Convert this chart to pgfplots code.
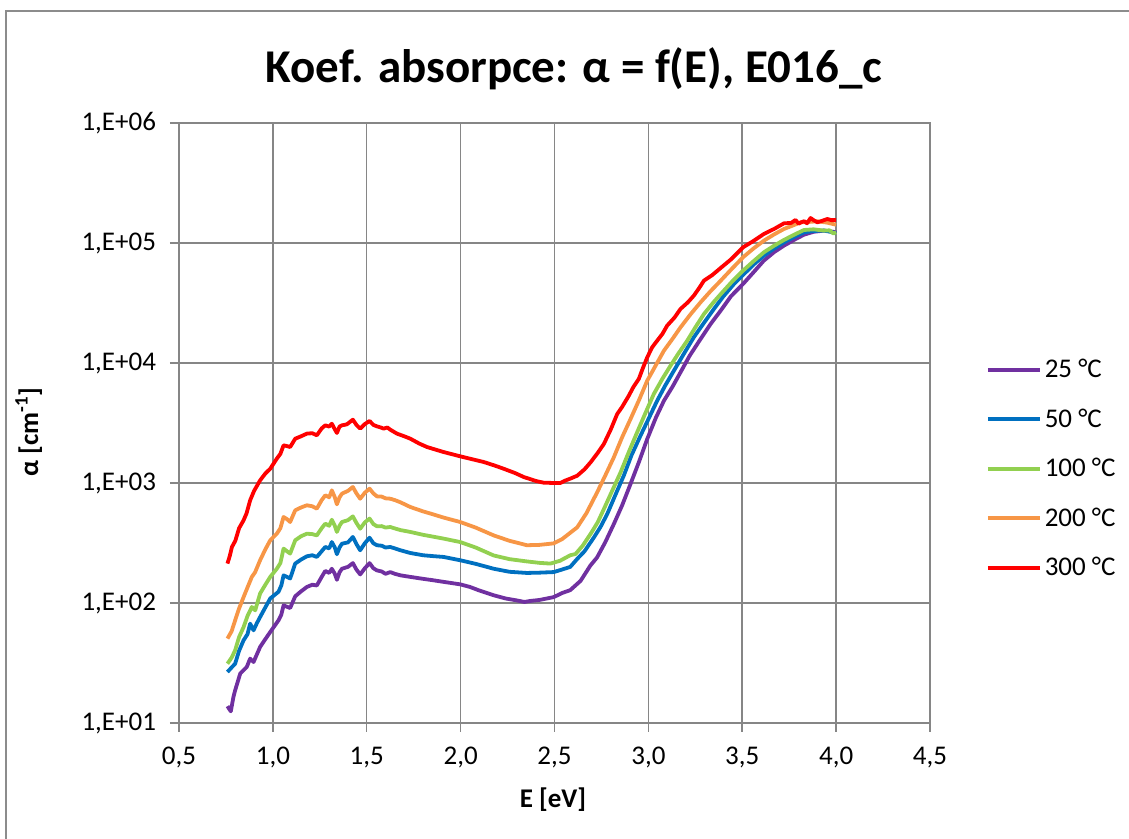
\documentclass[border=0pt]{standalone}
\usepackage{pgfplots}
\pgfplotsset{compat=1.18}
\usepackage{fontspec}
\setmainfont{Carlito}
\definecolor{c25}{RGB}{112,48,160}
\definecolor{c50}{RGB}{0,112,192}
\definecolor{c100}{RGB}{146,208,80}
\definecolor{c200}{RGB}{247,150,70}
\definecolor{c300}{RGB}{255,0,0}
\definecolor{gridc}{RGB}{134,134,134}
\definecolor{framec}{RGB}{140,140,140}
\begin{document}
\begin{tikzpicture}
\path[use as bounding box] (0,0) rectangle (564.5pt,419.5pt);
\draw[framec, line width=1pt] (3pt,-5pt) -- (3pt,414pt) -- (570pt,414pt);
\node[font=\fontsize{23.5}{28}\selectfont\bfseries] at (287pt,385pt) {Koef. absorpce: α = f(E), E016\_c};
\begin{axis}[
  at={(89.5pt,58pt)}, anchor=south west,
  scale only axis, width=375.5pt, height=300pt,
  xmin=0.5, xmax=4.5, ymin=10, ymax=1000000,
  ymode=log, log basis y=10,
  xtick={0.5,1,1.5,2,2.5,3,3.5,4,4.5},
  xticklabels={{0,5},{1,0},{1,5},{2,0},{2,5},{3,0},{3,5},{4,0},{4,5}},
  ytick={10,100,1000,10000,100000,1000000},
  yticklabels={{1,E+01},{1,E+02},{1,E+03},{1,E+04},{1,E+05},{1,E+06}},
  yminorticks=false,
  xtick pos=bottom, ytick pos=left,
  tick align=outside, major tick length=4.5pt,
  tick style={gridc, line width=0.75pt},
  axis line style={gridc, line width=0.75pt},
  grid=major, major grid style={gridc, line width=0.75pt},
  tick label style={font=\fontsize{13.5}{15}\selectfont},
  yticklabel style={xshift=-3.5pt},
  xticklabel style={yshift=-4pt},
  xlabel={\textbf{E [eV]}},
  ylabel={\textbf{α [cm\textsuperscript{-1}]}},
  label style={font=\fontsize{13.5}{15}\selectfont},
  xlabel style={at={(axis description cs:0.498,-0.128)}, anchor=center},
  ylabel style={at={(axis description cs:-0.2,0.485)}, anchor=center, rotate=0},
  legend style={at={(axis description cs:1.074,0.612)}, anchor=north west, draw=none, fill=none,
    font=\fontsize{13.5}{15}\selectfont, row sep=11pt, inner sep=0pt,
    nodes={inner sep=1.5pt}},
  legend cell align=left,
  legend image code/.code={\draw[#1, line width=1.9pt] (0pt,0pt) -- (26pt,0pt);},
  every axis plot/.append style={line width=1.9pt, line join=round},
]
\addplot[c25] coordinates {
(0.758,13.8)(0.776,12.5)(0.790,16.5)(0.799,18.7)(0.826,25.8)(0.861,29.3)(0.879,34.4)(0.897,32.2)(0.932,43)(0.960,50)(0.986,57.3)(1.030,71.7)(1.045,80)(1.057,95.7)(1.075,93)(1.092,90.8)(1.119,113.7)(1.150,125)(1.181,136)(1.210,142)(1.234,140)(1.260,165)(1.279,185)(1.300,178)(1.314,193)(1.330,175)(1.341,156)(1.355,180)(1.368,193)(1.400,200)(1.426,215)(1.445,190)(1.465,173)(1.490,195)(1.515,215)(1.535,195)(1.554,187)(1.580,183)(1.600,175)(1.625,181)(1.650,175)(1.680,170)(1.732,165)(1.800,159)(1.850,155)(1.909,150)(1.998,143)(2.050,136)(2.100,127)(2.176,116)(2.240,109)(2.300,105)(2.340,102)(2.371,104)(2.420,106)(2.496,112)(2.540,121)(2.584,128)(2.639,153)(2.691,205)(2.727,240)(2.770,320)(2.816,455)(2.860,650)(2.905,982)(2.950,1500)(2.994,2328)(3.040,3500)(3.083,4850)(3.130,6400)(3.171,8357)(3.220,11500)(3.278,15850)(3.330,21000)(3.385,27300)(3.440,36000)(3.504,45500)(3.560,57000)(3.615,71300)(3.670,84000)(3.722,95000)(3.780,107000)(3.829,117300)(3.880,124000)(3.935,126800)(3.970,125000)(4.000,122700)
};
\addlegendentry{25 °C}
\addplot[c50] coordinates {
(0.758,26.6)(0.780,29)(0.799,31.2)(0.820,40)(0.844,48.9)(0.865,55)(0.879,67.3)(0.897,59.2)(0.915,68)(0.932,76.4)(0.960,92)(0.986,109)(1.010,117)(1.030,124)(1.045,140)(1.057,170)(1.075,165)(1.092,160)(1.119,213)(1.150,230)(1.181,245)(1.210,250)(1.234,242)(1.260,270)(1.279,293)(1.300,285)(1.314,322)(1.330,290)(1.341,255)(1.355,290)(1.368,312)(1.400,320)(1.426,355)(1.445,310)(1.465,275)(1.490,315)(1.515,350)(1.535,315)(1.554,303)(1.580,300)(1.600,290)(1.625,293)(1.650,285)(1.680,275)(1.732,261)(1.800,250)(1.850,246)(1.909,242)(1.998,227)(2.080,212)(2.176,193)(2.260,182)(2.353,178)(2.420,179)(2.496,181)(2.540,190)(2.584,200)(2.621,233)(2.660,270)(2.710,352)(2.745,430)(2.781,552)(2.825,800)(2.869,1152)(2.910,1700)(2.958,2479)(3.000,3400)(3.047,4857)(3.090,6500)(3.136,8630)(3.190,12000)(3.242,16370)(3.295,21500)(3.349,28180)(3.400,36000)(3.456,45550)(3.504,54100)(3.560,66000)(3.615,78400)(3.670,90000)(3.722,101300)(3.780,113000)(3.829,122700)(3.880,126000)(3.935,126800)(3.970,124000)(4.000,120500)
};
\addlegendentry{50 °C}
\addplot[c100] coordinates {
(0.758,31.2)(0.780,35)(0.799,40.3)(0.820,52)(0.844,63)(0.865,78)(0.888,92.6)(0.906,86.9)(0.932,120)(0.960,142)(0.986,165)(1.021,193)(1.040,215)(1.057,284)(1.075,270)(1.092,258)(1.119,333)(1.150,360)(1.181,378)(1.210,375)(1.234,366)(1.260,420)(1.279,458)(1.300,440)(1.314,494)(1.330,440)(1.341,391)(1.355,440)(1.368,473)(1.400,490)(1.426,527)(1.445,465)(1.465,416)(1.490,470)(1.515,505)(1.535,455)(1.554,436)(1.580,437)(1.600,425)(1.625,430)(1.650,418)(1.680,405)(1.732,391)(1.800,370)(1.850,358)(1.909,344)(1.998,322)(2.080,290)(2.176,249)(2.260,232)(2.353,222)(2.420,216)(2.478,213)(2.530,225)(2.584,250)(2.612,256)(2.650,300)(2.692,376)(2.730,470)(2.763,607)(2.810,880)(2.852,1227)(2.895,1800)(2.940,2643)(2.985,3850)(3.029,5520)(3.075,7400)(3.118,9500)(3.160,12000)(3.207,15350)(3.250,19800)(3.296,25600)(3.350,32500)(3.402,40100)(3.450,48500)(3.504,58800)(3.560,70500)(3.615,83600)(3.670,95000)(3.722,106000)(3.780,118000)(3.829,128300)(3.880,130000)(3.935,126800)(3.965,127500)(3.985,120000)(4.000,122700)
};
\addlegendentry{100 °C}
\addplot[c200] coordinates {
(0.758,50.5)(0.780,58)(0.799,71.7)(0.820,90)(0.844,112)(0.865,135)(0.888,165)(0.905,180)(0.932,227)(0.960,280)(0.986,333)(1.021,378)(1.040,420)(1.057,521)(1.075,500)(1.092,473)(1.119,592)(1.150,625)(1.181,652)(1.210,640)(1.234,611)(1.260,720)(1.279,789)(1.300,760)(1.314,869)(1.330,760)(1.341,664)(1.355,760)(1.368,815)(1.400,860)(1.426,926)(1.445,820)(1.465,740)(1.490,830)(1.515,897)(1.535,820)(1.554,774)(1.580,770)(1.600,745)(1.625,740)(1.650,720)(1.680,690)(1.732,631)(1.800,580)(1.850,550)(1.909,515)(1.998,473)(2.080,425)(2.176,366)(2.260,330)(2.353,303)(2.420,305)(2.496,314)(2.540,340)(2.584,385)(2.621,427)(2.670,560)(2.727,835)(2.770,1150)(2.816,1637)(2.860,2400)(2.905,3415)(2.950,4900)(2.994,7130)(3.040,9600)(3.083,12680)(3.130,16000)(3.171,19800)(3.225,25500)(3.278,32050)(3.330,39500)(3.385,48500)(3.445,61000)(3.504,76000)(3.560,90000)(3.615,104500)(3.670,118000)(3.722,130800)(3.770,140000)(3.811,148700)(3.860,150000)(3.900,151700)(3.950,148000)(4.000,142000)
};
\addlegendentry{200 °C}
\addplot[c300] coordinates {
(0.758,213)(0.770,245)(0.782,293)(0.800,330)(0.820,420)(0.844,489)(0.860,560)(0.879,718)(0.900,860)(0.932,1052)(0.960,1200)(0.986,1315)(1.021,1596)(1.040,1750)(1.057,2060)(1.075,2030)(1.092,1995)(1.119,2339)(1.150,2450)(1.181,2578)(1.210,2600)(1.234,2496)(1.260,2850)(1.279,3025)(1.300,2950)(1.314,3121)(1.330,2800)(1.341,2611)(1.355,2950)(1.368,3025)(1.394,3080)(1.426,3371)(1.445,3050)(1.465,2838)(1.490,3100)(1.515,3289)(1.535,3050)(1.554,2966)(1.575,2900)(1.590,2840)(1.610,2900)(1.625,2784)(1.661,2578)(1.700,2450)(1.732,2339)(1.780,2130)(1.821,1995)(1.870,1890)(1.909,1812)(1.998,1668)(2.060,1580)(2.123,1496)(2.180,1400)(2.229,1315)(2.290,1210)(2.336,1122)(2.400,1040)(2.442,1006)(2.500,1000)(2.531,1000)(2.559,1050)(2.584,1087)(2.621,1150)(2.660,1300)(2.692,1486)(2.730,1780)(2.763,2115)(2.800,2800)(2.834,3758)(2.860,4300)(2.896,5346)(2.920,6300)(2.949,7363)(2.970,9000)(2.994,11150)(3.020,13500)(3.047,15350)(3.075,17500)(3.100,20470)(3.140,24000)(3.171,28190)(3.210,32000)(3.242,36400)(3.270,42000)(3.296,48550)(3.340,54000)(3.385,61900)(3.440,73000)(3.504,92000)(3.560,104000)(3.615,118900)(3.670,131000)(3.722,145800)(3.760,147000)(3.784,155500)(3.800,145000)(3.811,148000)(3.830,152000)(3.845,146000)(3.864,161500)(3.880,155000)(3.900,148700)(3.920,152000)(3.953,158500)(3.975,155000)(4.000,155500)
};
\addlegendentry{300 °C}
\end{axis}
\end{tikzpicture}
\end{document}
